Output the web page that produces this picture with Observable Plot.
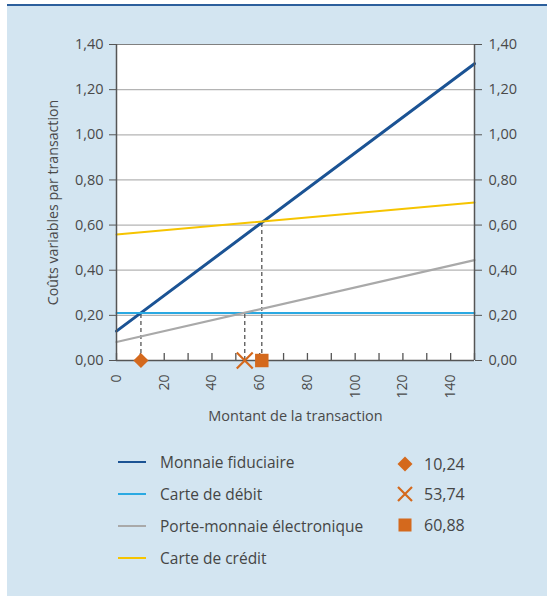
<!DOCTYPE html>
<html>
<head>
<meta charset="utf-8">
<script src="https://cdn.jsdelivr.net/npm/d3@7"></script>
<script src="https://cdn.jsdelivr.net/npm/@observablehq/plot@0.6"></script>
<style>
  html, body { margin: 0; padding: 0; background: #fff; }
  body { width: 547px; height: 596px; position: relative; overflow: hidden; font-family: "Open Sans", "Noto Sans", sans-serif; }
  .panel { position: absolute; left: 7px; top: 4px; width: 540px; height: 592px; background: #d3e5f1; border-top: 2px solid #2c5f9c; box-sizing: border-box; }
  #chart { position: absolute; left: 0; top: 0; }
  .legend { position: absolute; font-size: 15.5px; color: #454545; }
  .row { position: absolute; display: flex; align-items: center; white-space: nowrap; height: 20px; }
  .row .swatch { width: 28px; height: 2px; margin-right: 14px; }
  .row svg { margin-right: 10px; }
</style>
</head>
<body>
<div class="panel"></div>
<div id="chart"></div>
<div class="legend" id="legend"></div>
<script>
// Variable costs per transaction, by means of payment (end points of each line)
const amounts = [0, 150];
const fiduciaire = [0.13, 1.315];
const debit = [0.21, 0.21];
const porteMonnaie = [0.082, 0.445];
const credit = [0.558, 0.70];

const seriesNames = ["Monnaie fiduciaire", "Carte de débit", "Porte-monnaie électronique", "Carte de crédit"];
const seriesColors = ["#1b5394", "#2aa9e2", "#a9a9a9", "#f6c400"];
const seriesWidths = [3, 2, 2.2, 2];
const seriesValues = [fiduciaire, debit, porteMonnaie, credit];

// Break-even amounts and the cost level where the lines cross
const breakEven = [10.24, 53.74, 60.88];
const crossingCost = [0.21, 0.21, 0.61];
const breakEvenLabels = ["10,24", "53,74", "60,88"];
const markerColor = "#d4691d";

const yTicks = [0, 0.2, 0.4, 0.6, 0.8, 1.0, 1.2, 1.4];
const xTicks = d3.range(0, 151, 10);
const xLabels = [0, 20, 40, 60, 80, 100, 120, 140];

const lineRows = [];
seriesValues.forEach((vals, i) => {
  amounts.forEach((a, j) => lineRows.push({series: seriesNames[i], x: a, y: vals[j]}));
});
const crossings = breakEven.map((x, i) => ({x, y: crossingCost[i]}));

const fmt = d => d.toFixed(2).replace(".", ",");

const lineMarks = seriesNames.map((name, i) =>
  Plot.line(lineRows.filter(d => d.series === name), {
    x: "x", y: "y", stroke: seriesColors[i], strokeWidth: seriesWidths[i]
  })
);

const chart = Plot.plot({
  width: 547,
  height: 430,
  marginLeft: 116,
  marginRight: 73,
  marginTop: 44,
  marginBottom: 70,
  style: {background: "transparent", fontFamily: "'Open Sans', 'Noto Sans', sans-serif", fontSize: "14.5px", color: "#4a4a4a"},
  x: {domain: [0, 150], axis: null},
  y: {domain: [0, 1.4], axis: null},
  marks: [
    Plot.frame({fill: "#fff", stroke: null}),
    Plot.ruleY(yTicks.filter(d => d > 0 && d < 1.4), {stroke: "#b4b4b4", strokeWidth: 1.2}),
    Plot.ruleY([1.4], {stroke: "#808080", strokeWidth: 1.2}),
    Plot.ruleX(crossings, {x: "x", y1: 0, y2: "y", stroke: "#555", strokeWidth: 1.3, strokeDasharray: "4,3"}),
    ...lineMarks,
    Plot.ruleX([0, 150], {stroke: "#555", strokeWidth: 1.5}),
    Plot.ruleY([0], {stroke: "#555", strokeWidth: 1.5}),
    Plot.ruleX(xTicks, {x: d => d, insetTop: 309, stroke: "#555", strokeWidth: 1.3}),
    Plot.axisY({anchor: "left", ticks: yTicks, tickFormat: fmt, tickSize: 7, tickPadding: 6, label: null, stroke: "#555", fontSize: 14.5}),
    Plot.axisY({anchor: "right", ticks: yTicks, tickFormat: fmt, tickSize: 7, tickPadding: 7, label: null, stroke: "#555", fontSize: 14.5}),
    Plot.text(xLabels, {x: d => d, frameAnchor: "bottom", dy: 14, rotate: -90, textAnchor: "end", lineAnchor: "middle", text: d => String(d), fontSize: 14, fill: "#4a4a4a"}),
    Plot.text(["Montant de la transaction"], {frameAnchor: "bottom", dy: 56, textAnchor: "middle", lineAnchor: "middle", fontSize: 14.5, fill: "#4a4a4a"}),
    Plot.text(["Coûts variables par transaction"], {frameAnchor: "left", dx: -63, rotate: -90, textAnchor: "middle", lineAnchor: "middle", fontSize: 14.2, fill: "#4a4a4a"}),
    Plot.dot([crossings[0]], {x: "x", y: 0, symbol: "diamond2", r: 6.8, fill: markerColor, stroke: null}),
    Plot.dot([crossings[1]], {x: "x", y: 0, symbol: "times", r: 7.3, stroke: markerColor, strokeWidth: 2.2}),
    Plot.dot([crossings[2]], {x: "x", y: 0, symbol: "square", r: 7.6, fill: markerColor, stroke: null})
  ]
});
document.getElementById("chart").appendChild(chart);

// Legend: series lines on the left, break-even markers on the right
const legend = document.getElementById("legend");
const rowTops = [452, 484, 516, 548];
seriesNames.forEach((name, i) => {
  const row = document.createElement("div");
  row.className = "row";
  row.style.left = "118px";
  row.style.top = rowTops[i] + "px";
  row.innerHTML = `<div class="swatch" style="background:${seriesColors[i]}"></div><span>${name}</span>`;
  legend.appendChild(row);
});
const symbolSvgs = [
  `<svg width="18" height="18" viewBox="-9 -9 18 18"><path d="M0,-7.5L7.5,0L0,7.5L-7.5,0Z" fill="${markerColor}"/></svg>`,
  `<svg width="18" height="18" viewBox="-9 -9 18 18"><path d="M-7,-7L7,7M7,-7L-7,7" stroke="${markerColor}" stroke-width="2.2"/></svg>`,
  `<svg width="18" height="18" viewBox="-9 -9 18 18"><rect x="-6.5" y="-6.5" width="13" height="13" fill="${markerColor}"/></svg>`
];
const symTops = [454, 484, 515];
breakEvenLabels.forEach((label, i) => {
  const row = document.createElement("div");
  row.className = "row";
  row.style.left = "396px";
  row.style.top = symTops[i] + "px";
  row.style.fontSize = "16px";
  row.innerHTML = symbolSvgs[i] + `<span>${label}</span>`;
  legend.appendChild(row);
});
</script>
</body>
</html>
